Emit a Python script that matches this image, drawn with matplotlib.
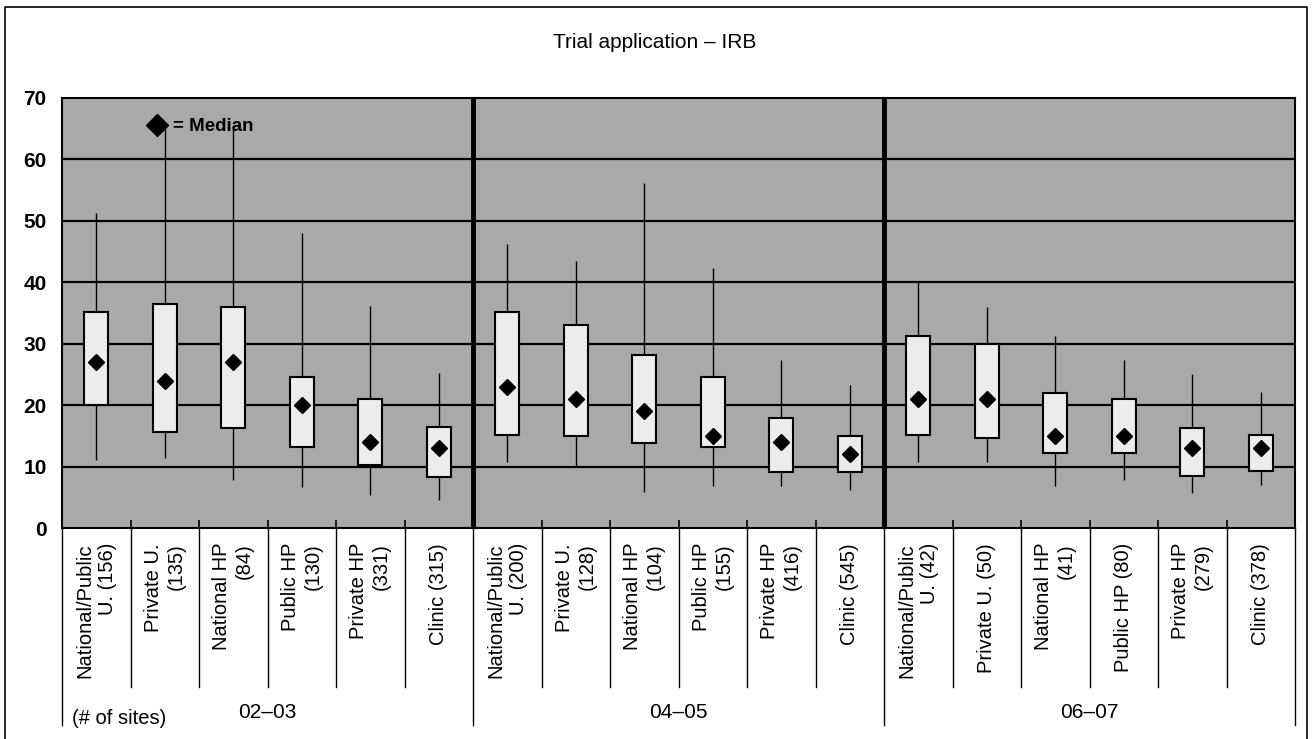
import matplotlib.pyplot as plt
from matplotlib.transforms import blended_transform_factory

plt.rcParams["font.family"] = ["Liberation Sans", "DejaVu Sans"]

# data (days)
groups = ["02–03", "04–05", "06–07"]
categories = [
    "National/Public\nU. (156)", "Private U.\n(135)", "National HP\n(84)",
    "Public HP\n(130)", "Private HP\n(331)", "Clinic (315)",
    "National/Public\nU. (200)", "Private U.\n(128)", "National HP\n(104)",
    "Public HP\n(155)", "Private HP\n(416)", "Clinic (545)",
    "National/Public\nU. (42)", "Private U. (50)", "National HP\n(41)",
    "Public HP (80)", "Private HP\n(279)", "Clinic (378)",
]
whisker_low = [11, 11.4, 7.8, 6.7, 5.4, 4.6, 10.8, 10, 5.9, 6.9, 6.9, 6.2, 10.8, 10.8, 6.9, 7.8, 5.7, 7]
box_low = [20, 15.7, 16.2, 13.2, 10.3, 8.3, 15.2, 14.9, 13.8, 13.2, 9.1, 9.1, 15.2, 14.7, 12.2, 12.2, 8.5, 9.3]
medians = [27, 24, 27, 20, 14, 13, 23, 21, 19, 15, 14, 12, 21, 21, 15, 15, 13, 13]
box_high = [35.1, 36.5, 36, 24.6, 21, 16.5, 35.1, 33.1, 28.1, 24.5, 17.9, 15, 31.2, 30, 22, 21, 16.2, 15.2]
whisker_high = [51.2, 65, 65, 48.1, 36.1, 25.3, 46.2, 43.4, 56.1, 42.3, 27.4, 23.3, 40, 35.9, 31.2, 27.4, 25.1, 22.2]
y_ticks = [0, 10, 20, 30, 40, 50, 60, 70]

W, H = 1312, 739
fig = plt.figure(figsize=(W / 100, H / 100), dpi=100)
ax = fig.add_axes([62 / W, 1 - 528 / H, (1295 - 62) / W, (528 - 98) / H])

x = list(range(len(categories)))
ax.set_facecolor("#a9a9a9")
ax.set_xlim(-0.5, len(categories) - 0.5)
ax.set_ylim(0, 70)

for v in y_ticks[1:-1]:
    ax.axhline(v, color="black", lw=1.6, zorder=1)
for b in [5.5, 11.5]:
    ax.axvline(b, color="black", lw=3.5, zorder=2)

# whiskers, boxes, medians
ax.vlines(x, whisker_low, whisker_high, color="black", lw=1.0, zorder=3)
heights = [h - l for h, l in zip(box_high, box_low)]
ax.bar(x, heights, bottom=box_low, width=0.35, color="#ececec",
       edgecolor="black", linewidth=1.5, zorder=4)
ax.plot(x, medians, linestyle="none", marker="D", ms=8.5, color="black", zorder=5)

# median legend
ax.plot([0.88], [65.6], marker="D", ms=11, color="black", clip_on=False, zorder=6)
ax.text(1.12, 65.4, "= Median", fontsize=13.5, fontweight="bold", va="center", ha="left", zorder=6)

ax.set_yticks(y_ticks)
ax.set_yticklabels([str(v) for v in y_ticks], fontsize=15, fontweight="bold")
ax.tick_params(axis="y", length=0, pad=11)
ax.set_xticks([i + 0.5 for i in x[:-1]])
ax.set_xticklabels([])
ax.tick_params(axis="x", direction="in", length=6, width=1.2)
for s in ax.spines.values():
    s.set_linewidth(1.5)

# label table below axes
tr = blended_transform_factory(ax.transData, fig.transFigure)
def fy(px):
    return 1 - px / H

for i, lab in enumerate(categories):
    ax.text(i, fy(543), lab, transform=tr, rotation=90, ha="center", va="top",
            multialignment="right", fontsize=14.5, linespacing=1.25)
for b in [i + 0.5 for i in x[:-1]]:
    bottom = 725 if b in (5.5, 11.5) else 687
    ax.plot([b, b], [fy(528), fy(bottom)], transform=tr, color="black",
            lw=1.0, clip_on=False)
for b in [-0.5, len(categories) - 0.5]:
    ax.plot([b, b], [fy(528), fy(725)], transform=tr, color="black",
            lw=1.0, clip_on=False)

for g, name in enumerate(groups):
    ax.text(g * 6 + 2.5, fy(712), name, transform=tr, ha="center", va="center",
            fontsize=15)
ax.text(-0.35, fy(718), "(# of sites)", transform=tr, ha="left", va="center",
        fontsize=14.5)

fig.text(655 / W, fy(43), "Trial application – IRB", ha="center", va="center",
         fontsize=15)

# outer frame
fig.add_artist(plt.Line2D([5 / W, 5 / W, 1307 / W, 1307 / W],
                          [0, fy(7), fy(7), 0], color="black", lw=1.2))

fig.savefig("out.png", dpi=100)
